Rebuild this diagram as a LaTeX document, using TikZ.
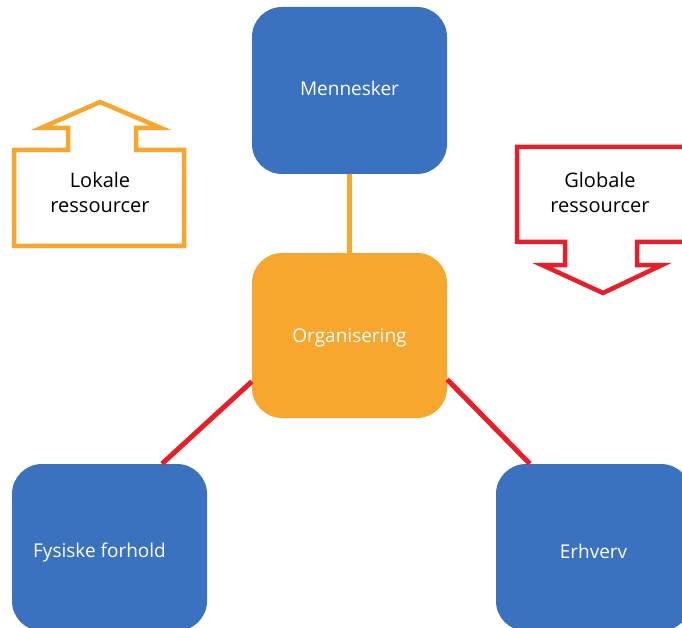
\documentclass[tikz,border=0pt]{standalone}
\usepackage{fontspec}
\setmainfont{Open Sans}
\definecolor{boxblue}{RGB}{58,114,192}
\definecolor{orgorange}{RGB}{247,167,45}
\definecolor{linered}{RGB}{232,30,40}
\begin{document}
\begin{tikzpicture}[x=1pt,y=-1pt,
  box/.style={rounded corners=30pt, minimum width=195pt, minimum height=167pt,
    inner sep=0pt},
  boxtext/.style={text=white, font=\fontsize{19}{23}\selectfont, inner sep=0pt},
  bluebox/.style={box, fill=boxblue},
  orangebox/.style={box, fill=orgorange, minimum height=165pt},
  orangeconn/.style={draw=orgorange, line width=5pt},
  redconn/.style={draw=linered, line width=5pt},
  bigarrow/.style={line width=4.5pt, line join=miter},
  lbl/.style={align=center, text=black, font=\fontsize{20}{25}\selectfont, inner sep=0pt}]
\clip (0,0) rectangle (682,628);
\fill[white] (0,0) rectangle (682,628);
% boxes
\node[bluebox, label={[boxtext, yshift=2pt]center:Mennesker}] (men) at (349.5,90.5) {};
\node[orangebox, label={[boxtext, yshift=-2pt]center:Organisering}] (org) at (349.5,335.5) {};
\node[bluebox, label={[boxtext, xshift=-10pt, yshift=-5pt]center:Fysiske forhold}] (fys) at (109.5,547.5) {};
\node[bluebox, label={[boxtext, yshift=-4pt]center:Erhverv}] (erh) at (593.5,547.5) {};
% connectors
\draw[orangeconn] (men.south) -- (org.north);
\draw[redconn] ([yshift=-46pt]org.west) -- ([xshift=52.5pt]fys.north);
\draw[redconn] ([yshift=-44pt]org.east) -- ([xshift=34pt]erh.north west);
% local resources arrow (up)
\draw[bigarrow, draw=orgorange] (14,150) -- (68,150) -- (68,128) -- (41,128) -- (100,102)
  -- (161,128) -- (136,128) -- (136,150) -- (184,150) -- (184,246) -- (14,246) -- cycle;
\node[lbl] (lok) at (100,193) {Lokale\\ressourcer};
% global resources arrow (down)
\draw[bigarrow, draw=linered] (700,147) -- (517,147) -- (517,242) -- (565,242) -- (565,265)
  -- (542,265) -- (603,293) -- (662,265) -- (637,265) -- (637,242) -- (700,242);
\node[lbl] (glo) at (600,193) {Globale\\ressourcer};
\end{tikzpicture}
\end{document}
